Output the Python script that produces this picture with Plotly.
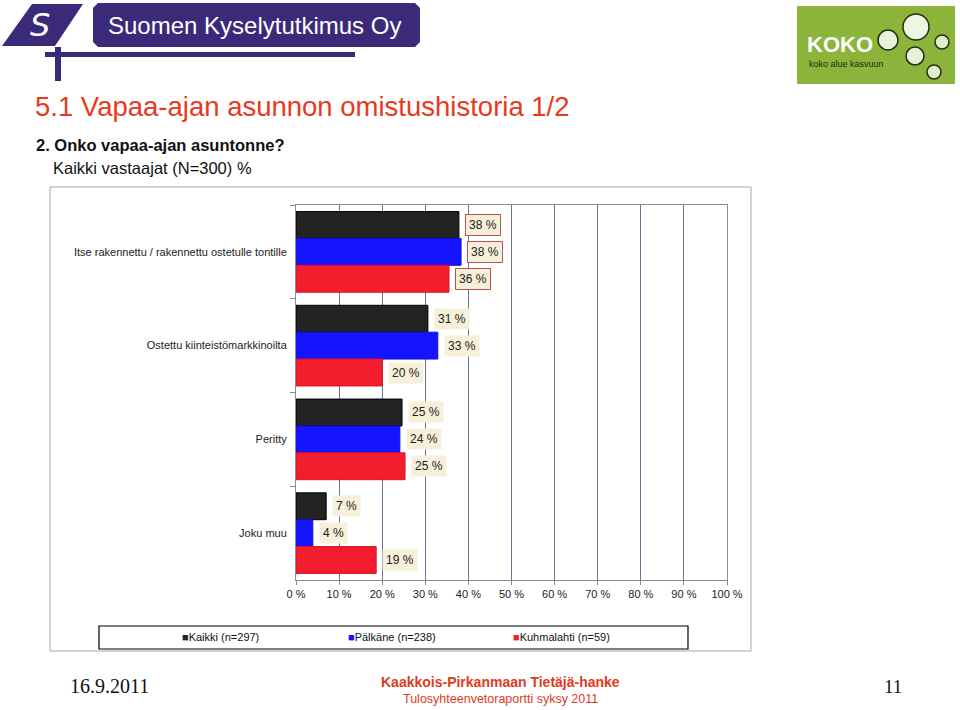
import plotly.graph_objects as go

# Data
categories = ["Itse rakennettu / rakennettu ostetulle tontille",
              "Ostettu kiinteistömarkkinoilta",
              "Peritty",
              "Joku muu"]
series_names = ["Kaikki (n=297)", "Pälkäne (n=238)", "Kuhmalahti (n=59)"]
kaikki = [37.8, 30.6, 24.6, 7.0]
palkane = [38.3, 32.9, 24.1, 3.9]
kuhmalahti = [35.5, 20.0, 25.3, 18.6]
x_ticks = list(range(0, 101, 10))
x_tick_labels = [f"{t} %" for t in x_ticks]

colors = ["#232323", "#1414ff", "#f21d2d"]
line_colors = ["#000000", "#1010e0", "#e01020"]

# plot area in pixels
L, R, T, B = 296, 727, 205, 580
W_, H_ = R - L, B - T


def px(x):
    return (x - L) / W_


def py(y):
    return (B - y) / H_


FONT = "Liberation Sans, Arial, Helvetica, sans-serif"
SERIF = "Liberation Serif, Times New Roman, serif"

fig = go.Figure()
for name, vals, c, lc in zip(series_names, [kaikki, palkane, kuhmalahti], colors, line_colors):
    fig.add_trace(go.Bar(
        y=categories, x=vals, name=name, orientation="h",
        marker=dict(color=c, line=dict(color=lc, width=1)),
        hoverinfo="x+y+name",
    ))

# value labels
annotations = []
shifts = [27, 0, -27]
for si, vals in enumerate([kaikki, palkane, kuhmalahti]):
    for ci, v in enumerate(vals):
        dotted = ci == 0
        annotations.append(dict(
            x=v, y=categories[ci], xref="x", yref="y",
            text=f"{round(v)} %", showarrow=False,
            xanchor="left", yanchor="middle", xshift=6, yshift=shifts[si],
            bgcolor="#f6efd9",
            bordercolor="#c05050" if dotted else "rgba(0,0,0,0)",
            borderwidth=1, borderpad=3,
            font=dict(family=FONT, size=12, color="#222222"),
        ))


# page texts
def text(x, y, s, size, color="#000", family=FONT, xanchor="left", bold=False):
    if bold:
        s = f"<b>{s}</b>"
    annotations.append(dict(
        x=px(x), y=py(y), xref="paper", yref="paper", text=s, showarrow=False,
        xanchor=xanchor, yanchor="middle",
        font=dict(family=family, size=size, color=color),
    ))


text(106, 25, "Suomen Kyselytutkimus Oy", 24, "#ffffff")
text(33, 107, "5.1 Vapaa-ajan asunnon omistushistoria 1/2", 27.5, "#e8391d")
text(34, 145, "2. Onko vapaa-ajan asuntonne?", 16.5, "#111111", bold=True)
text(51, 168, "Kaikki vastaajat (N=300) %", 16.5, "#111111")
text(68, 686, "16.9.2011", 20, "#111111", family=SERIF)
text(882, 686, "11", 19, "#111111", family=SERIF)
text(500, 682, "Kaakkois-Pirkanmaan Tietäjä-hanke", 14, "#e03a1e", xanchor="center", bold=True)
text(500, 699, "Tulosyhteenvetoraportti syksy 2011", 12.5, "#e03a1e", xanchor="center")
text(805, 45, "KOKO", 22, "#ffffff", bold=True)
text(807, 64, "koko alue kasvuun", 9, "#1a2a10")
text(40, 25, "<i>S</i>", 32, "#ffffff", family="DejaVu Sans, sans-serif", xanchor="center")

# legend drawn as text with coloured squares
legend_x = [180, 346, 511]
for name, c, lx in zip(series_names, colors, legend_x):
    text(lx, 637, f"<span style='color:{c}'>■</span>{name}", 11, "#111111")

shapes = []


def rect(x0, y0, x1, y1, fill="rgba(0,0,0,0)", line="#000", lw=1, layer="below"):
    shapes.append(dict(type="rect", xref="paper", yref="paper",
                       x0=px(x0), y0=py(y0), x1=px(x1), y1=py(y1),
                       fillcolor=fill, line=dict(color=line, width=lw), layer=layer))


def path(points, fill, line="rgba(0,0,0,0)"):
    d = "M " + " L ".join(f"{px(a)},{py(b)}" for a, b in points) + " Z"
    shapes.append(dict(type="path", xref="paper", yref="paper", path=d,
                       fillcolor=fill, line=dict(color=line, width=1), layer="above"))


def circle(cx, cy, r, fill, line):
    shapes.append(dict(type="circle", xref="paper", yref="paper",
                       x0=px(cx - r), x1=px(cx + r), y0=py(cy + r), y1=py(cy - r),
                       fillcolor=fill, line=dict(color=line, width=1.5), layer="above"))


purple = "#3b2a7a"
# outer chart frame and legend box
rect(50, 187, 751, 651, fill="#ffffff", line="#a8a8a8", lw=1)
rect(99, 626, 688, 649, line="#000000", lw=1.2, layer="above")
# header banner (rounded)
r = 5
x0, y0, x1, y1 = 93, 3, 420, 47
pts = [(x0 + r, y0), (x1 - r, y0), (x1, y0 + r), (x1, y1 - r), (x1 - r, y1),
       (x0 + r, y1), (x0, y1 - r), (x0, y0 + r)]
path(pts, purple)
path([(2, 46), (32, 4), (83, 4), (55, 46)], purple)
path([(45, 52), (355, 52), (355, 57), (45, 57)], purple)
path([(55, 47), (61, 47), (61, 81), (55, 81)], purple)
# KOKO logo
path([(797, 6), (955, 6), (955, 84), (797, 84)], "#8db43a")
circle(888, 40, 10, "#e8f2d8", "#203010")
circle(916, 27, 13, "#eef6e2", "#203010")
circle(942, 42, 7, "#dfeecb", "#203010")
circle(915, 56, 9, "#e6f1d6", "#203010")
circle(934, 72, 7, "#e2efcf", "#203010")

fig.update_layout(
    width=960, height=710,
    margin=dict(l=L, r=960 - R, t=T, b=710 - B),
    paper_bgcolor="#ffffff", plot_bgcolor="#ccccff",
    barmode="group", bargap=0.14, bargroupgap=0,
    font=dict(family=FONT, size=11, color="#222222"),
    annotations=annotations, shapes=shapes,
    showlegend=False,
    xaxis=dict(range=[0, 100], tickvals=x_ticks, ticktext=x_tick_labels,
               showgrid=True, gridcolor="#707090", gridwidth=1,
               showline=True, linecolor="#8a8a9a", mirror=True,
               ticks="outside", ticklen=4, tickcolor="#8a8a9a",
               zeroline=False, fixedrange=True),
    yaxis=dict(categoryorder="array", categoryarray=categories, autorange="reversed",
               showline=True, linecolor="#8a8a9a", mirror=True,
               ticks="outside", ticklen=5, tickcolor="#8a8a9a", tickson="boundaries",
               showgrid=False, ticklabelstandoff=6, fixedrange=True),
)

# drop the browser's default body margin so the figure sits at the page corner
fig.write_html("out.html", config={"displayModeBar": False},
               post_script="document.body.style.margin='0';")
